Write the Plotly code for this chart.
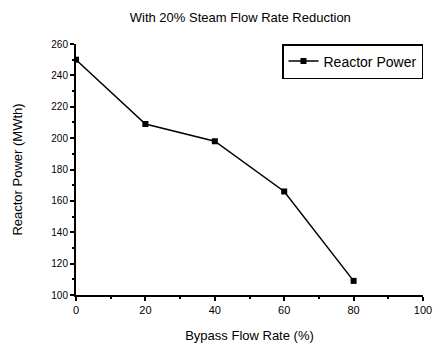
import plotly.graph_objects as go

bypass = [0, 20, 40, 60, 80]
power = [250, 209, 198, 166, 109]

fig = go.Figure()
fig.add_trace(go.Scatter(x=bypass, y=power, mode="lines+markers", name="Reactor Power",
                         line=dict(color="black", width=1.5),
                         marker=dict(symbol="square", size=6, color="black")))
font = "Liberation Sans, Arial, sans-serif"
fig.update_layout(
    width=433, height=344,
    margin=dict(l=76, r=10, t=44, b=49, autoexpand=False),
    paper_bgcolor="white", plot_bgcolor="white",
    font=dict(family=font, color="black", size=11),
    title=dict(text="With 20% Steam Flow Rate Reduction", x=0.555, xanchor="center",
               y=0.95, yanchor="middle", font=dict(size=13)),
    showlegend=True,
    legend=dict(x=1.0, y=1.0, xanchor="right", yanchor="top", bordercolor="black",
                borderwidth=1.5, font=dict(size=14), bgcolor="white"),
    xaxis=dict(range=[0, 100], tickvals=[0, 20, 40, 60, 80, 100], showgrid=False,
               zeroline=False, showline=True, linecolor="black", linewidth=2,
               ticks="outside", ticklen=4, tickwidth=1.5, tickcolor="black",
               minor=dict(dtick=10, ticks="outside", ticklen=2, tickcolor="black"),
               title=dict(text="Bypass Flow Rate (%)", font=dict(size=13), standoff=16),
               tickfont=dict(size=11), automargin=False, ticklabeloverflow="allow"),
    yaxis=dict(range=[100, 260], tickvals=[100, 120, 140, 160, 180, 200, 220, 240, 260],
               showgrid=False, zeroline=False, showline=True, linecolor="black", linewidth=2,
               ticks="outside", ticklen=4, tickwidth=1.5, tickcolor="black",
               minor=dict(dtick=10, ticks="outside", ticklen=2, tickcolor="black"),
               title=dict(text="Reactor Power (MWth)", font=dict(size=13), standoff=26),
               tickfont=dict(size=10), automargin=False),
)
fig.write_html("out.html")
